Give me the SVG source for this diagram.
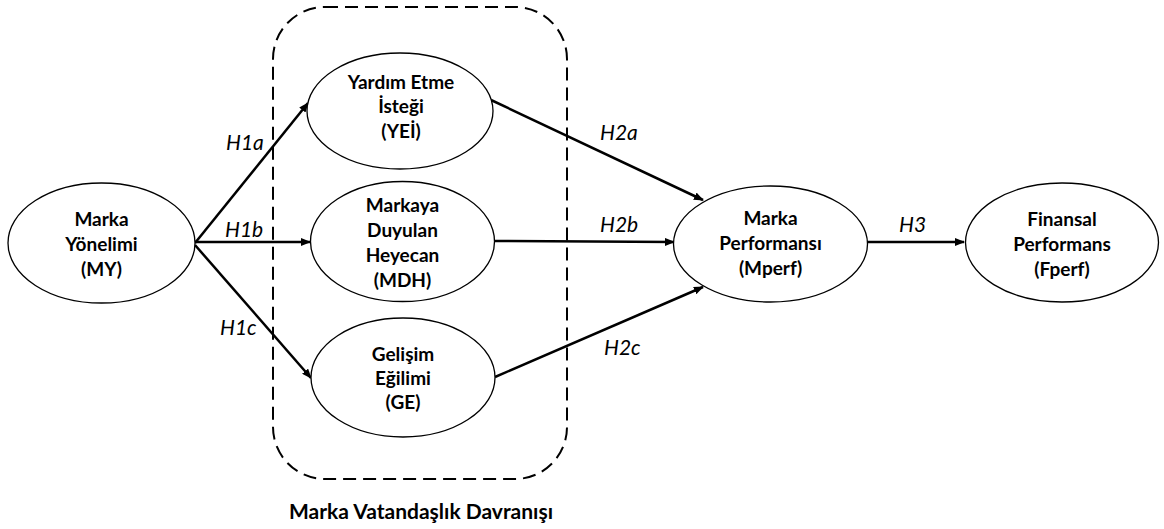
<svg xmlns="http://www.w3.org/2000/svg" width="1164" height="529" viewBox="0 0 1164 529">
<style>
.node{fill:#fff;stroke:#000;stroke-width:1.3}
.nt{font-family:Lato,"Liberation Sans",sans-serif;font-weight:bold;font-size:19px;text-anchor:middle;fill:#000}
.lab{font-family:Lato,"Liberation Sans",sans-serif;font-style:italic;font-size:21px;fill:#000}
.edge{stroke:#000;stroke-width:2.5;fill:none;marker-end:url(#ah)}
</style>
<defs>
<marker id="ah" markerWidth="10" markerHeight="8" refX="9" refY="4" orient="auto" markerUnits="userSpaceOnUse">
<path d="M0,0 L10,4 L0,8 Z" fill="#000"/>
</marker>
</defs>
<rect x="273" y="7" width="294" height="472" rx="52" ry="52" fill="none" stroke="#000" stroke-width="2" stroke-dasharray="13,7"/>
<g id="connectors">
<line class="edge" x1="195" y1="243" x2="308" y2="103"/>
<line class="edge" x1="195" y1="242" x2="310" y2="242"/>
<line class="edge" x1="195" y1="245" x2="311" y2="378"/>
<line class="edge" x1="491" y1="100" x2="703" y2="200"/>
<line class="edge" x1="494" y1="241" x2="674" y2="242"/>
<line class="edge" x1="495" y1="377" x2="703" y2="287"/>
<line class="edge" x1="867" y1="242" x2="964" y2="242"/>
<text class="lab" x="226" y="150">H1a</text>
<text class="lab" x="225" y="237">H1b</text>
<text class="lab" x="220" y="335">H1c</text>
<text class="lab" x="600" y="140">H2a</text>
<text class="lab" x="600" y="232">H2b</text>
<text class="lab" x="604" y="355">H2c</text>
<text class="lab" x="899" y="232">H3</text>
</g>
<g id="MY">
<ellipse class="node" cx="101.5" cy="243" rx="93.5" ry="60"/>
<text class="nt" x="101.5" y="226">Marka</text>
<text class="nt" x="101.5" y="251">Yönelimi</text>
<text class="nt" x="101.5" y="276">(MY)</text>
</g>
<g id="YEI">
<ellipse class="node" cx="400" cy="111" rx="93" ry="58"/>
<text class="nt" x="401" y="89">Yardım Etme</text>
<text class="nt" x="401" y="113">İsteği</text>
<text class="nt" x="401" y="138">(YEİ)</text>
</g>
<g id="MDH">
<ellipse class="node" cx="402.5" cy="241.5" rx="92" ry="60"/>
<text class="nt" x="402.5" y="212">Markaya</text>
<text class="nt" x="402.5" y="237">Duyulan</text>
<text class="nt" x="402.5" y="262">Heyecan</text>
<text class="nt" x="402.5" y="287">(MDH)</text>
</g>
<g id="GE">
<ellipse class="node" cx="403" cy="377.5" rx="92" ry="59.5"/>
<text class="nt" x="403" y="361">Gelişim</text>
<text class="nt" x="403" y="385">Eğilimi</text>
<text class="nt" x="403" y="409">(GE)</text>
</g>
<g id="Mperf">
<ellipse class="node" cx="770.5" cy="244" rx="97" ry="58"/>
<text class="nt" x="770.5" y="225">Marka</text>
<text class="nt" x="770.5" y="250">Performansı</text>
<text class="nt" x="770.5" y="275">(Mperf)</text>
</g>
<g id="Fperf">
<ellipse class="node" cx="1062" cy="242.5" rx="96.5" ry="59.5"/>
<text class="nt" x="1062" y="226">Finansal</text>
<text class="nt" x="1062" y="251">Performans</text>
<text class="nt" x="1062" y="276">(Fperf)</text>
</g>
<text class="nt" x="421" y="519" style="font-size:21px">Marka Vatandaşlık Davranışı</text>
</svg>
